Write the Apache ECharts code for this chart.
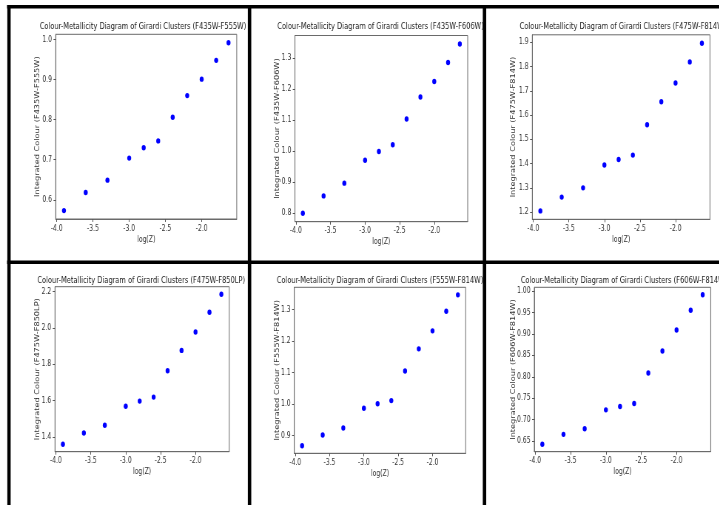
<!DOCTYPE html>
<html>
<head>
<meta charset="utf-8">
<script src="https://cdn.jsdelivr.net/npm/echarts@6/dist/echarts.min.js"></script>
<style>
  html, body { margin: 0; padding: 0; background: #fff; overflow: hidden; }
  /* The figure is laid out on a wider canvas and squeezed horizontally
     into the 719px frame, giving the condensed look of the exported figure. */
  #wrap { width: 719px; height: 505px; overflow: hidden; }
  #chart { width: 972px; height: 505px; transform: scaleX(0.74); transform-origin: 0 0; }
</style>
</head>
<body>
<div id="wrap"><div id="chart"></div></div>
<script>
// log(Z) of the Girardi model clusters, shared by every panel
const logZ = [-3.9, -3.6, -3.3, -3.0, -2.8, -2.6, -2.4, -2.2, -2.0, -1.8, -1.63];

// Integrated colours per filter pair
const colF435W_F555W = [0.573, 0.618, 0.649, 0.704, 0.730, 0.747, 0.806, 0.860, 0.901, 0.948, 0.992];
const colF435W_F606W = [0.800, 0.856, 0.897, 0.971, 0.999, 1.021, 1.104, 1.175, 1.225, 1.286, 1.346];
const colF475W_F814W = [1.205, 1.262, 1.300, 1.394, 1.417, 1.435, 1.560, 1.655, 1.732, 1.819, 1.896];
const colF475W_F850LP = [1.360, 1.422, 1.464, 1.569, 1.597, 1.619, 1.764, 1.876, 1.977, 2.086, 2.185];
const colF555W_F814W = [0.868, 0.902, 0.924, 0.987, 1.001, 1.011, 1.105, 1.175, 1.232, 1.294, 1.346];
const colF606W_F814W = [0.643, 0.666, 0.679, 0.723, 0.731, 0.738, 0.809, 0.860, 0.909, 0.955, 0.991];

// Tick positions
const xTicks = [-4.0, -3.5, -3.0, -2.5, -2.0];
const yTicksF435W_F555W = [0.6, 0.7, 0.8, 0.9, 1.0];
const yTicksF435W_F606W = [0.8, 0.9, 1.0, 1.1, 1.2, 1.3];
const yTicksF475W_F814W = [1.2, 1.3, 1.4, 1.5, 1.6, 1.7, 1.8, 1.9];
const yTicksF475W_F850LP = [1.4, 1.6, 1.8, 2.0, 2.2];
const yTicksF555W_F814W = [0.9, 1.0, 1.1, 1.2, 1.3];
const yTicksF606W_F814W = [0.65, 0.70, 0.75, 0.80, 0.85, 0.90, 0.95, 1.00];

// Filter pairs, panel order left-to-right, top-to-bottom
const bands = ['F435W-F555W', 'F435W-F606W', 'F475W-F814W', 'F475W-F850LP', 'F555W-F814W', 'F606W-F814W'];
const colours = [colF435W_F555W, colF435W_F606W, colF475W_F814W, colF475W_F850LP, colF555W_F814W, colF606W_F814W];
const yTicks = [yTicksF435W_F555W, yTicksF435W_F606W, yTicksF475W_F814W, yTicksF475W_F850LP, yTicksF555W_F814W, yTicksF606W_F814W];
const yDecimals = [1, 1, 1, 1, 1, 2];

// Plot-area rectangles (canvas px, before the horizontal squeeze) and label placement
const layout = [
  { l: 75.3,  t: 34.3,  w: 244.6, h: 184.7, tx: 193.2, ty: 22.5,  yGap: 20 },
  { l: 398.6, t: 35.5,  w: 233.4, h: 186.2, tx: 514.2, ty: 22.5,  yGap: 19.6 },
  { l: 719.3, t: 34.8,  w: 240.1, h: 184.5, tx: 841.9, ty: 22.5,  yGap: 21.4 },
  { l: 74.3,  t: 286.7, w: 235.5, h: 165.0, tx: 190.9, ty: 276.5, yGap: 19.1 },
  { l: 397.7, t: 287.3, w: 231.6, h: 166.0, tx: 513.5, ty: 276.5, yGap: 18.7 },
  { l: 722.0, t: 287.3, w: 238.4, h: 164.4, tx: 843.2, ty: 276.5, yGap: 24.1 }
];

const FONT = "'DejaVu Sans', sans-serif";

// matplotlib-style autoscale: 5% padding around the data
function padded(arr) {
  const lo = Math.min(...arr), hi = Math.max(...arr), p = (hi - lo) * 0.05;
  return [lo - p, hi + p];
}

const grid = [], xAxis = [], yAxis = [], series = [], title = [];
const [xMin, xMax] = padded(logZ);

bands.forEach((band, i) => {
  const L = layout[i];
  const [yMin, yMax] = padded(colours[i]);
  grid.push({
    left: L.l, top: L.t, width: L.w, height: L.h,
    show: true, borderColor: '#6a6a6a', borderWidth: 1, backgroundColor: '#fff'
  });
  title.push({
    text: 'Colour-Metallicity Diagram of Girardi Clusters (' + band + ')',
    left: L.tx, top: L.ty, textAlign: 'center', padding: 0,
    textStyle: { fontFamily: FONT, fontSize: 9, fontWeight: 'normal', color: '#222' }
  });
  xAxis.push({
    type: 'value', gridIndex: i, min: xMin, max: xMax,
    name: 'log(Z)', nameLocation: 'middle', nameGap: 16.5, nameMoveOverlap: false,
    nameTextStyle: { fontFamily: FONT, fontSize: 8.2, color: '#333' },
    axisLine: { show: true, onZero: false, lineStyle: { color: '#6a6a6a', width: 1 } },
    axisTick: { show: true, length: 3, customValues: xTicks, lineStyle: { color: '#555' } },
    axisLabel: { customValues: xTicks, formatter: v => v.toFixed(1), fontFamily: FONT, fontSize: 8.2, color: '#333', margin: 5.5 },
    splitLine: { show: false }
  });
  yAxis.push({
    type: 'value', gridIndex: i, min: yMin, max: yMax,
    name: 'Integrated Colour (' + band + ')', nameLocation: 'middle', nameRotate: 90,
    nameGap: L.yGap, nameMoveOverlap: false,
    nameTextStyle: { fontFamily: FONT, fontSize: 8.2, color: '#333' },
    axisLine: { show: true, onZero: false, lineStyle: { color: '#6a6a6a', width: 1 } },
    axisTick: { show: true, length: 3, customValues: yTicks[i], lineStyle: { color: '#555' } },
    axisLabel: { customValues: yTicks[i], formatter: v => v.toFixed(yDecimals[i]), fontFamily: FONT, fontSize: 8.2, color: '#333', margin: 5 },
    splitLine: { show: false }
  });
  series.push({
    type: 'scatter', xAxisIndex: i, yAxisIndex: i,
    data: logZ.map((x, k) => [x, colours[i][k]]),
    symbol: 'circle', symbolSize: 5.4,
    itemStyle: { color: '#0000ff', opacity: 1 },
    emphasis: { disabled: true }
  });
});

// Black frame separating the six panels
const bar = (x, y, w, h) => ({ type: 'rect', shape: { x, y, width: w, height: h }, style: { fill: '#000' }, z: 100, silent: true });
const graphic = [
  bar(9.5, 5, 963, 3.6),
  bar(9.9, 5, 4.5, 500),
  bar(334.9, 5, 4.6, 500),
  bar(652.4, 5, 4.6, 500),
  bar(9.5, 260.5, 963, 3.5)
];

const chart = echarts.init(document.getElementById('chart'), null, { renderer: 'canvas', width: 972, height: 505 });
chart.setOption({
  animation: false,
  backgroundColor: '#fff',
  title, grid, xAxis, yAxis, series, graphic
});
</script>
</body>
</html>
